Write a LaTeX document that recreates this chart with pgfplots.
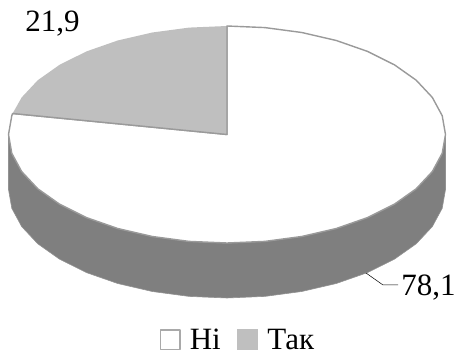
\documentclass[border=0pt]{standalone}
\usepackage{fontspec}
\setmainfont{Liberation Serif}
\usepackage{pgfplots}
\pgfplotsset{compat=1.18}
\definecolor{sideGray}{HTML}{7F7F7F}
\definecolor{sliceGray}{HTML}{BFBFBF}
\definecolor{edgeGray}{HTML}{9A9A9A}
\begin{document}
\begin{tikzpicture}
\begin{axis}[
  width=455pt, height=355pt, scale only axis,
  xmin=0, xmax=455, ymin=0, ymax=355,
  hide axis, clip=false,
  legend columns=2,
  legend style={at={(axis cs:237,15)}, anchor=center, draw=none, fill=none,
    font=\fontsize{31}{31}\selectfont, inner sep=0pt, outer sep=0pt,
    nodes={inner sep=0pt, outer sep=0pt},
    /tikz/every odd column/.style={column sep=9pt},
    /tikz/every even column/.style={column sep=16pt}},
  legend cell align=left,
]
% Rim of the disc: front half of the upper ellipse, then the same curve lowered
\addplot[forget plot, fill=sideGray, draw=sideGray!85!white, line width=0.6pt] coordinates {
 (8.5,220.5) (11.8,201.7) (21.7,183.4) (37.8,166.2) (59.6,150.8) (86.5,137.4) (117.7,126.5)
 (152.3,118.5) (189.1,113.6) (227,112) (264.9,113.6) (301.7,118.5) (336.3,126.5) (367.5,137.4)
 (394.4,150.8) (416.2,166.2) (432.3,183.4) (442.2,201.7) (445.5,220.5)
 (445.5,165.5) (442.2,146.7) (432.3,128.4) (416.2,111.2) (394.4,95.8) (367.5,82.4) (336.3,71.5)
 (301.7,63.5) (264.9,58.6) (227,57) (189.1,58.6) (152.3,63.5) (117.7,71.5) (86.5,82.4)
 (59.6,95.8) (37.8,111.2) (21.7,128.4) (11.8,146.7) (8.5,165.5)
} --cycle;
% Slice of 78.1
\addplot[fill=white, draw=edgeGray, line width=1.4pt, line join=round,
  legend image code/.code={\draw[fill=white, draw=edgeGray!85!white, line width=1.5pt] (0.75pt,-9.5pt) rectangle (20.25pt,10pt);}] coordinates {
 (227,220.5) (227,329) (264.9,327.4) (301.7,322.5) (336.3,314.5) (367.5,303.6) (394.4,290.2)
 (416.2,274.8) (432.3,257.6) (442.2,239.3) (445.5,220.5) (442.2,201.7) (432.3,183.4) (416.2,166.2)
 (394.4,150.8) (367.5,137.4) (336.3,126.5) (301.7,118.5) (264.9,113.6) (227,112) (189.1,113.6)
 (152.3,118.5) (117.7,126.5) (86.5,137.4) (59.6,150.8) (37.8,166.2) (21.7,183.4) (11.8,201.7)
 (8.5,220.5) (11.8,239.3) (12.6,241.5)
} --cycle;
\addlegendentry{Ні}
% Slice of 21.9
\addplot[fill=sliceGray, draw=none,
  legend image code/.code={\fill[sliceGray] (0pt,-10.25pt) rectangle (21.5pt,10.75pt);}] coordinates {
 (227,220.5) (12.6,241.5) (21.7,257.6) (37.8,274.8) (59.6,290.2) (86.5,303.6) (117.7,314.5)
 (152.3,322.5) (189.1,327.4) (227,329)
} --cycle;
\addlegendentry{Так}
% Radial edges between the slices
\addplot[forget plot, draw=edgeGray, line width=1.4pt, line join=round] coordinates {
 (12.6,241.5) (227,220.5) (227,329)
};
% Leader line of the lower value
\addplot[forget plot, draw=black, line width=0.5pt] coordinates {
 (366,82) (383,70) (398,70)
};
\node[font=\fontsize{31}{31}\selectfont, inner sep=0pt] at (axis cs:52.5,331) {21,9};
\node[font=\fontsize{31}{31}\selectfont, inner sep=0pt] at (axis cs:428.5,67) {78,1};
\end{axis}
\pgfresetboundingbox
\path[use as bounding box] (0,0) rectangle (455pt,355pt);
\end{tikzpicture}
\end{document}
